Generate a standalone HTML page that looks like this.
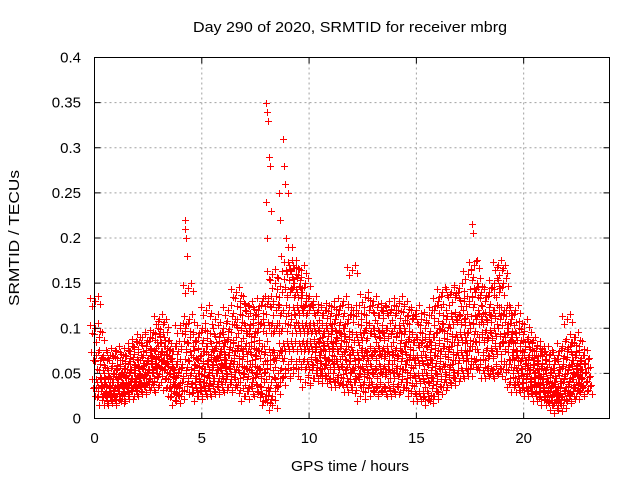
<!DOCTYPE html>
<html><head><meta charset="utf-8"><style>
body{margin:0;background:#fff}
svg{display:block;font-family:"Liberation Sans",sans-serif}
</style></head><body>
<svg id="chart" width="640" height="480" viewBox="0 0 640 480">
<g id="grid"></g>
<g id="pts"></g>
<rect x="94.5" y="57.5" width="515" height="361" fill="none" stroke="#000" stroke-width="1"/>
<g id="ticks"></g>
<text x="350" y="32" font-size="15" text-anchor="middle" textLength="314" lengthAdjust="spacingAndGlyphs">Day 290 of 2020, SRMTID for receiver mbrg</text>
<text x="350" y="471" font-size="15" text-anchor="middle" textLength="118" lengthAdjust="spacingAndGlyphs">GPS time / hours</text>
<text transform="translate(19,238) rotate(-90)" font-size="15" text-anchor="middle" textLength="136" lengthAdjust="spacingAndGlyphs">SRMTID / TECUs</text>
</svg>
<script>
const xTicks=[0,5,10,15,20];
const yTicks=[0,0.05,0.1,0.15,0.2,0.25,0.3,0.35,0.4];
const yTickLabels=["0","0.05","0.1","0.15","0.2","0.25","0.3","0.35","0.4"];
const slotTimes=[0.0,0.2,0.4,0.6,0.8,1.0,1.2,1.4,1.6,1.8,2.0,2.2,2.4,2.6,2.8,3.0,3.2,3.4,3.6,3.8,4.0,4.2,4.4,4.6,4.8,5.0,5.2,5.4,5.6,5.8,6.0,6.2,6.4,6.6,6.8,7.0,7.2,7.4,7.6,7.8,8.0,8.2,8.4,8.6,8.8,9.0,9.2,9.4,9.6,9.8,10.0,10.2,10.4,10.6,10.8,11.0,11.2,11.4,11.6,11.8,12.0,12.2,12.4,12.6,12.8,13.0,13.2,13.4,13.6,13.8,14.0,14.2,14.4,14.6,14.8,15.0,15.2,15.4,15.6,15.8,16.0,16.2,16.4,16.6,16.8,17.0,17.2,17.4,17.6,17.8,18.0,18.2,18.4,18.6,18.8,19.0,19.2,19.4,19.6,19.8,20.0,20.2,20.4,20.6,20.8,21.0,21.2,21.4,21.6,21.8,22.0,22.2,22.4,22.6,22.8];
const slotValues=[
[0.13,0.10,0.07,0.04,0.03],[0.09,0.06,0.04,0.03,0.02],[0.07,0.05,0.04,0.03,0.02],[0.065,0.05,0.035,0.025,0.02],[0.07,0.05,0.04,0.03,0.025],
[0.075,0.055,0.04,0.03,0.02],[0.065,0.05,0.04,0.03,0.025],[0.07,0.055,0.045,0.035,0.025],[0.075,0.06,0.045,0.035,0.03],[0.08,0.06,0.05,0.04,0.03],
[0.085,0.065,0.05,0.04,0.03],[0.09,0.07,0.055,0.045,0.035],[0.08,0.065,0.055,0.045,0.035],[0.09,0.07,0.06,0.05,0.04],[0.095,0.075,0.06,0.05,0.035],
[0.11,0.09,0.075,0.065,0.055],[0.105,0.09,0.08,0.07,0.06],[0.07,0.06,0.05,0.04,0.03],[0.075,0.055,0.04,0.03,0.02],[0.08,0.06,0.05,0.035,0.025],
[0.1,0.08,0.06,0.045,0.03],[0.22,0.21,0.2,0.18,0.145,0.1],[0.11,0.09,0.07,0.05,0.035],[0.08,0.06,0.045,0.035,0.025],[0.09,0.065,0.05,0.035,0.03],
[0.1,0.075,0.055,0.04,0.03],[0.12,0.08,0.06,0.045,0.03],[0.095,0.07,0.06,0.045,0.03],[0.11,0.08,0.065,0.05,0.035],[0.09,0.075,0.06,0.05,0.035],
[0.1,0.08,0.065,0.05,0.035],[0.12,0.09,0.07,0.055,0.04],[0.105,0.085,0.07,0.055,0.035],[0.14,0.11,0.08,0.06,0.04],[0.13,0.1,0.075,0.05,0.025],
[0.12,0.095,0.075,0.055,0.03],[0.125,0.1,0.08,0.06,0.04],[0.11,0.09,0.07,0.05,0.03],[0.12,0.1,0.075,0.055,0.035],[0.13,0.11,0.08,0.05,0.02],
[0.35,0.34,0.33,0.29,0.28,0.24,0.2,0.13,0.1,0.06,0.025],[0.28,0.23,0.16,0.13,0.1,0.07,0.04,0.015],[0.15,0.12,0.1,0.07,0.05,0.03],[0.25,0.22,0.18,0.14,0.1,0.07,0.04],[0.31,0.28,0.26,0.2,0.16,0.12,0.08,0.05],
[0.25,0.19,0.17,0.14,0.11,0.08,0.06],[0.19,0.17,0.15,0.12,0.1,0.08,0.05],[0.16,0.14,0.12,0.1,0.08,0.06],[0.165,0.14,0.12,0.1,0.08,0.06],[0.15,0.13,0.1,0.08,0.06,0.04],
[0.12,0.1,0.08,0.06,0.045],[0.13,0.1,0.08,0.065,0.05],[0.12,0.1,0.085,0.07,0.05],[0.115,0.095,0.08,0.06,0.045],[0.12,0.1,0.08,0.065,0.045],
[0.125,0.1,0.08,0.06,0.04],[0.11,0.09,0.075,0.06,0.04],[0.12,0.095,0.08,0.06,0.045],[0.13,0.1,0.075,0.055,0.035],[0.11,0.09,0.07,0.05,0.035],
[0.165,0.12,0.085,0.06,0.04],[0.12,0.09,0.07,0.05,0.025],[0.11,0.09,0.07,0.055,0.04],[0.135,0.1,0.075,0.055,0.035],[0.12,0.095,0.07,0.05,0.03],
[0.13,0.1,0.075,0.055,0.035],[0.115,0.09,0.07,0.05,0.03],[0.12,0.095,0.075,0.055,0.035],[0.125,0.1,0.075,0.055,0.03],[0.12,0.095,0.07,0.05,0.03],
[0.115,0.09,0.07,0.05,0.035],[0.13,0.1,0.075,0.055,0.035],[0.125,0.1,0.08,0.06,0.04],[0.115,0.09,0.07,0.05,0.03],[0.11,0.085,0.065,0.045,0.025],
[0.12,0.09,0.065,0.045,0.025],[0.11,0.085,0.065,0.045,0.025],[0.1,0.08,0.06,0.04,0.02],[0.115,0.085,0.065,0.045,0.025],[0.12,0.09,0.07,0.05,0.03],
[0.13,0.1,0.075,0.055,0.035],[0.14,0.105,0.08,0.06,0.04],[0.12,0.095,0.075,0.055,0.04],[0.14,0.11,0.085,0.065,0.045],[0.135,0.11,0.09,0.07,0.05],
[0.145,0.115,0.09,0.07,0.05],[0.13,0.11,0.09,0.07,0.05],[0.16,0.13,0.1,0.08,0.06],[0.215,0.205,0.17,0.14,0.11,0.08,0.06],[0.175,0.15,0.12,0.09,0.06],
[0.14,0.11,0.09,0.07,0.05],[0.13,0.11,0.09,0.07,0.05],[0.14,0.115,0.095,0.075,0.055],[0.15,0.12,0.095,0.075,0.05],[0.17,0.14,0.11,0.08,0.055],
[0.165,0.15,0.12,0.09,0.06],[0.12,0.1,0.08,0.06,0.04],[0.11,0.09,0.07,0.05,0.035],[0.12,0.09,0.07,0.05,0.035],[0.1,0.08,0.065,0.05,0.035],
[0.105,0.08,0.06,0.045,0.03],[0.09,0.07,0.055,0.04,0.03],[0.085,0.065,0.05,0.04,0.025],[0.08,0.065,0.05,0.035,0.025],[0.075,0.06,0.045,0.035,0.02],
[0.075,0.055,0.04,0.03,0.02],[0.07,0.05,0.035,0.025,0.015],[0.06,0.045,0.03,0.02,0.012],[0.07,0.05,0.035,0.025,0.015],[0.08,0.06,0.045,0.03,0.02],
[0.11,0.075,0.055,0.04,0.025],[0.085,0.065,0.05,0.035,0.025],[0.09,0.07,0.055,0.04,0.03],[0.08,0.065,0.055,0.045,0.035],[0.07,0.06,0.05,0.04,0.03]
];
const X0=94.5,X1=609.5,Y0=418.5,Y1=57.5,XMAX=24,YMAX=0.4;
const xs=v=>X0+(v/XMAX)*(X1-X0);
const ys=v=>Y0-(v/YMAX)*(Y0-Y1);
const NS="http://www.w3.org/2000/svg";
const grid=document.getElementById('grid'),ticks=document.getElementById('ticks'),pts=document.getElementById('pts');
function mk(tag,attrs,parent){const e=document.createElementNS(NS,tag);for(const k in attrs)e.setAttribute(k,attrs[k]);parent.appendChild(e);return e;}
xTicks.forEach((t,i)=>{
  const x=xs(t);
  if(t>0){const g=mk('line',{x1:x,x2:x,y1:Y1,y2:Y0,stroke:'#a0a0a0','stroke-dasharray':'2,3'},grid);
  
  }
  const tk=mk('path',{d:`M${x} ${Y0}v-6M${x} ${Y1}v6`,stroke:'#000'},ticks);
  
  
  const lb=mk('text',{x:x,y:443,'font-size':15,'text-anchor':'middle'},ticks);lb.textContent=String(t);
  
  
});
yTicks.forEach((t,i)=>{
  const y=ys(t);
  if(t>0&&t<YMAX){const g=mk('line',{x1:X0,x2:X1,y1:y,y2:y,stroke:'#a0a0a0','stroke-dasharray':'2,3'},grid);
  
  }
  const tk=mk('path',{d:`M${X0} ${y}h6M${X1} ${y}h-6`,stroke:'#000'},ticks);
  
  
  const lb=mk('text',{x:81,y:y+5,'font-size':15,'text-anchor':'end'},ticks);lb.textContent=yTickLabels[i];
  
  
});
// marker cluster pattern (pixel offsets), purely visual density
const cluster=[[0,0],[-3,5],[3,-5],[5,3],[-5,-3]];
let d='';
slotTimes.forEach((t,i)=>{
  slotValues[i].forEach((v,j)=>{
    const bx=xs(t+(j%5)*0.04),by=ys(v);
    const cl=(v>0.17)?cluster.slice(0,1):cluster;
    cl.forEach(([ox,oy])=>{
      const x=Math.round(bx+ox)+0.5,y=Math.round(by+oy)+0.5;
      d+=`M${x-3.5} ${y}h7M${x} ${y-3.5}v7`;
    });
  });
});
const p=mk('path',{d:d,stroke:'#ff0000','stroke-width':1,fill:'none'},pts);


</script>
</body></html>
